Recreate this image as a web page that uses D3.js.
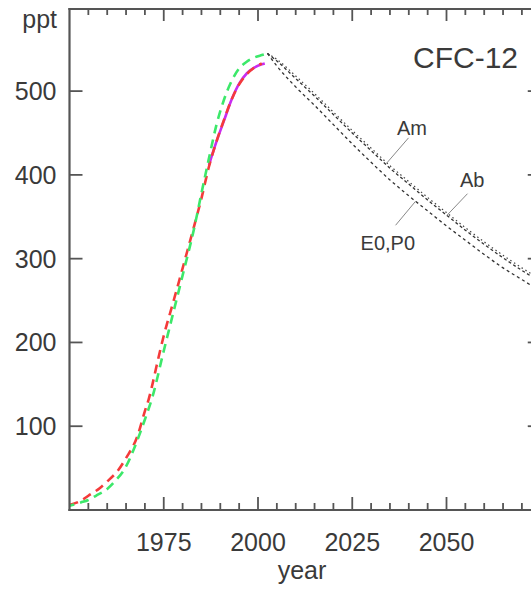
<!DOCTYPE html>
<html>
<head>
<meta charset="utf-8">
<script src="https://cdn.jsdelivr.net/npm/d3@7"></script>
<style>
  html, body { margin: 0; padding: 0; background: #fff; }
  svg { display: block; }
  text { font-family: "Liberation Sans", Arial, sans-serif; fill: #3a3a3a; }
</style>
</head>
<body>
<svg id="chart" width="531" height="589"></svg>
<script>
// ---------- data ----------
const redYears   = [1950, 1953, 1955, 1958, 1960, 1963, 1965, 1968, 1970, 1971, 1972, 1973, 1975, 1977, 1979, 1981, 1983, 1985, 1987, 1989, 1991, 1993, 1995, 1997, 1999, 2001];
const redValues  = [6, 11, 17, 26, 34, 48, 62, 88, 118, 132, 150, 170, 208, 240, 272, 305, 338, 372, 410, 440, 466, 490, 508, 520, 528, 533];

const greenYears  = [1950, 1953, 1955, 1957, 1960, 1962, 1965, 1967, 1970, 1972, 1975, 1977, 1980, 1983, 1985, 1987, 1989, 1991, 1993, 1995, 1997, 1999, 2001, 2002.5];
const greenValues = [5, 9, 12, 17, 25, 34, 52, 72, 108, 135, 190, 226, 280, 335, 378, 420, 460, 490, 512, 527, 535, 540, 543, 545];

const magentaYears  = [1987, 1989, 1991, 1993, 1995, 1997, 1999, 2001, 2001.8];
const magentaValues = [412, 440, 465, 490, 509, 521, 528, 532, 533];

const scenYears  = [2002.5, 2005, 2010, 2015, 2020, 2025, 2030, 2035, 2040, 2045, 2050, 2055, 2060, 2065, 2070, 2075];
const amValues   = [545, 538, 518, 497, 475, 453, 432, 411, 392, 373, 355, 337, 320, 304, 289, 275];
const abValues   = [545, 536, 515, 494, 472, 450, 429, 408, 389, 370, 352, 334, 317, 301, 286, 272];
const e0p0Values = [545, 530, 505, 483, 460, 437, 415, 394, 375, 357, 339, 322, 305, 289, 275, 261];

const xMajorTicks = [1975, 2000, 2025, 2050];
const xTickLabels = ["1975", "2000", "2025", "2050"];
const yTicks = [100, 200, 300, 400, 500];

const annotations = [
  { label: "Am",    series: "am",   year: 2034.2 },
  { label: "Ab",    series: "ab",   year: 2050.1 },
  { label: "E0,P0", series: "e0p0", year: 2041.8 }
];

// ---------- layout ----------
const svg = d3.select("#chart");
const mLeft = 69.5, mRight = 540.75, mTop = 9, mBottom = 510;

const x = d3.scaleLinear().domain([1950, 2075]).range([mLeft, mRight]);
const y = d3.scaleLinear().domain([0, 598]).range([mBottom, mTop]);

const axisColor = "#555";
const minorYears = d3.range(1955, 2075, 5).filter(v => !xMajorTicks.includes(v));

// series
const seriesMap = { am: amValues, ab: abValues, e0p0: e0p0Values };
const mk = (ys, vs) => ys.map((yr, i) => [yr, vs[i]]);
const line = d3.line().x(d => x(d[0])).y(d => y(d[1])).curve(d3.curveMonotoneX);

const plot = svg.append("g");

// scenario lines (black dotted)
plot.append("path").datum(mk(scenYears, e0p0Values))
  .attr("d", line).attr("fill", "none").attr("stroke", "#333")
  .attr("stroke-width", 1.3).attr("stroke-dasharray", "3,3");
plot.append("path").datum(mk(scenYears, abValues))
  .attr("d", line).attr("fill", "none").attr("stroke", "#333")
  .attr("stroke-width", 1.3).attr("stroke-dasharray", "3,2.5");
plot.append("path").datum(mk(scenYears, amValues))
  .attr("d", line).attr("fill", "none").attr("stroke", "#444")
  .attr("stroke-width", 1.2).attr("stroke-dasharray", "1.5,3");

// magenta
plot.append("path").datum(mk(magentaYears, magentaValues))
  .attr("d", line).attr("fill", "none").attr("stroke", "#c82cf0")
  .attr("stroke-width", 2.6);
// red dashed
plot.append("path").datum(mk(redYears, redValues))
  .attr("d", line).attr("fill", "none").attr("stroke", "#f43a3a")
  .attr("stroke-width", 2.6).attr("stroke-dasharray", "9,6");
// green dashed
plot.append("path").datum(mk(greenYears, greenValues))
  .attr("d", line).attr("fill", "none").attr("stroke", "#3ce86a")
  .attr("stroke-width", 2.6).attr("stroke-dasharray", "9,6").attr("stroke-dashoffset", 4);

// ---------- frame ----------
const frame = svg.append("g");
frame.append("line").attr("x1", x.range()[0]).attr("x2", x.range()[1]).attr("y1", y.range()[0]).attr("y2", y.range()[0]);
frame.append("line").attr("x1", x.range()[0]).attr("x2", x.range()[1]).attr("y1", y.range()[1]).attr("y2", y.range()[1]);
frame.append("line").attr("x1", x.range()[0]).attr("x2", x.range()[0]).attr("y1", y.range()[0]).attr("y2", y.range()[1]);
frame.append("line").attr("x1", x.range()[1]).attr("x2", x.range()[1]).attr("y1", y.range()[0]).attr("y2", y.range()[1]);
frame.selectAll("line").attr("stroke", axisColor).attr("stroke-width", 2.2).attr("stroke-linecap", "square");

// ---------- ticks (drawn from scales) ----------
const ticks = svg.append("g").attr("stroke", axisColor).attr("stroke-width", 1.8);
// bottom
ticks.selectAll(null).data(xMajorTicks).join("line")
  .attr("x1", d => x(d)).attr("x2", d => x(d)).attr("y1", mBottom).attr("y2", mBottom - 13);
ticks.selectAll(null).data(minorYears).join("line")
  .attr("x1", d => x(d)).attr("x2", d => x(d)).attr("y1", mBottom).attr("y2", mBottom - 7);
// top
ticks.selectAll(null).data(xMajorTicks).join("line")
  .attr("x1", d => x(d)).attr("x2", d => x(d)).attr("y1", mTop).attr("y2", mTop + 12);
ticks.selectAll(null).data(minorYears).join("line")
  .attr("x1", d => x(d)).attr("x2", d => x(d)).attr("y1", mTop).attr("y2", mTop + 6);
// left
ticks.selectAll(null).data(yTicks).join("line")
  .attr("x1", mLeft).attr("x2", mLeft + 13).attr("y1", d => y(d)).attr("y2", d => y(d));
// right
ticks.selectAll(null).data(yTicks).join("line")
  .attr("x1", mRight).attr("x2", mRight - 13).attr("y1", d => y(d)).attr("y2", d => y(d));

// ---------- tick labels ----------
svg.append("g").selectAll("text").data(yTicks).join("text")
  .attr("x", mLeft - 13).attr("y", d => y(d)).attr("dy", "0.36em")
  .attr("text-anchor", "end").attr("font-size", 25).text(d => d3.format("d")(d));
svg.append("g").selectAll("text").data(xMajorTicks).join("text")
  .attr("x", d => x(d)).attr("y", mBottom + 41)
  .attr("text-anchor", "middle").attr("font-size", 25).text((d, i) => xTickLabels[i]);

// ---------- texts ----------
svg.append("text").attr("x", 57).attr("y", 28).attr("text-anchor", "end")
  .attr("font-size", 25).text("ppt");
svg.append("text").attr("x", 302).attr("y", 579).attr("text-anchor", "middle")
  .attr("font-size", 25).text("year");
svg.append("text").attr("x", 413).attr("y", 68).attr("font-size", 30)
  .attr("fill", "#2a2a2a").text("CFC-12");

// annotations with leader lines
function valueAt(series, yr) {
  const vals = seriesMap[series];
  return d3.scaleLinear().domain(scenYears).range(vals)(yr);
}
const leaderOffsets = { am: [21.6, -25, 10, -28], ab: [20.6, -21.7, 13, -28], e0p0: [-20, 24, -55, 49] };
annotations.forEach(a => {
  const px = x(a.year), py = y(valueAt(a.series, a.year));
  const o = leaderOffsets[a.series];
  svg.append("line").attr("x1", px).attr("y1", py).attr("x2", px + o[0]).attr("y2", py + o[1])
    .attr("stroke", "#888").attr("stroke-width", 1);
  svg.append("text").attr("x", px + o[2]).attr("y", py + o[3]).attr("font-size", 20)
    .attr("fill", "#3a3a3a").text(a.label);
});
</script>
</body>
</html>
